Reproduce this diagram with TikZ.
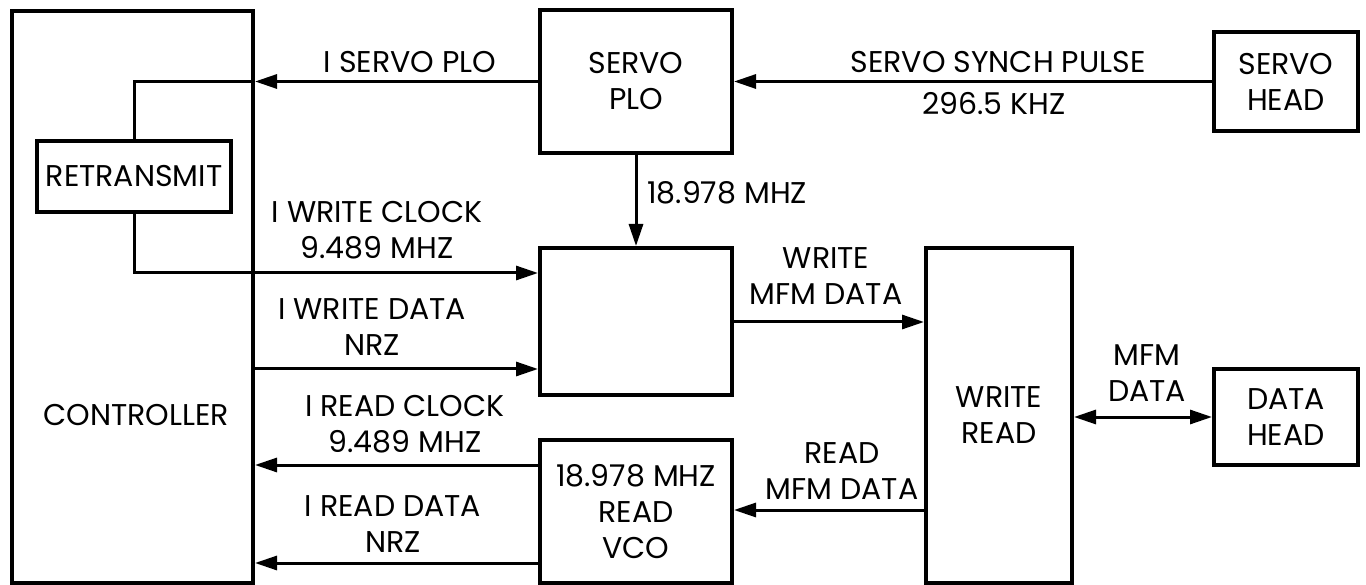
\documentclass[tikz,border=0pt]{standalone}
\usepackage{fontspec}
\setmainfont{Poppins}
\usetikzlibrary{arrows.meta}
\begin{document}
\begin{tikzpicture}[x=1pt,y=-1pt,
  box/.style={draw=black,line width=4pt,inner sep=0pt,align=center},
  lbl/.style={inner sep=0pt,align=center},
  wire/.style={draw=black,line width=3pt},
  arr/.style={wire,-{Triangle[length=22pt,width=14pt]}},
  barr/.style={wire,{Triangle[length=22pt,width=14pt]}-{Triangle[length=22pt,width=14pt]}},
  every node/.style={font=\fontsize{30}{36}\selectfont}]
\useasboundingbox[fill=white] (0,0) rectangle (1366,585);
% boxes
\node[box,minimum width=241pt,minimum height=572pt] (ctrl) at (132.5,297) {};
\node[lbl] (ctrltext) at (136,415) {CONTROLLER};
\node[box,minimum width=194pt,minimum height=71pt] (rt) at (134,176.5) {RETRANSMIT};
\node[box,minimum width=192pt,minimum height=143pt] (sp) at (636,81.5) {SERVO\\PLO};
\node[box,minimum width=192pt,minimum height=147pt] (wb) at (636,321.5) {};
\node[box,minimum width=192pt,minimum height=143pt] (vco) at (636,511.5) {18.978 MHZ\\READ\\VCO};
\node[box,minimum width=146pt,minimum height=335pt] (wr) at (999,415.5) {WRITE\\READ};
\node[box,minimum width=144pt,minimum height=99pt] (sh) at (1286,81.5) {SERVO\\HEAD};
\node[box,minimum width=144pt,minimum height=96pt] (dh) at (1286,417) {DATA\\HEAD};
% levels
\coordinate (yWC) at (0,273);
\coordinate (yWD) at (0,369);
\coordinate (yRC) at (0,465);
\coordinate (yRD) at (0,563);
\coordinate (yWM) at (0,322);
\coordinate (yRM) at (0,510);
% connectors
\draw[arr] (sp.west) -- (ctrl.east |- sp.west);
\draw[wire] (ctrl.east |- sp.west) -| (rt.north);
\draw[arr] (rt.south) |- (wb.west |- yWC);
\draw[arr] (ctrl.east |- yWD) -- (wb.west |- yWD);
\draw[arr] (vco.west |- yRC) -- (ctrl.east |- yRC);
\draw[arr] (vco.west |- yRD) -- (ctrl.east |- yRD);
\draw[arr] (sh.west) -- (sp.east |- sh.west);
\draw[arr] (sp.south) -- (wb.north);
\draw[arr] (wb.east |- yWM) -- (wr.west |- yWM);
\draw[arr] (wr.west |- yRM) -- (vco.east |- yRM);
\draw[barr] (wr.east |- dh.west) -- (dh.west);
% labels
\node[lbl] (l1) at (410,62) {I SERVO PLO};
\node[lbl] (l2) at (377,230) {I WRITE CLOCK\\9.489 MHZ};
\node[lbl] (l3) at (372,327) {I WRITE DATA\\NRZ};
\node[lbl] (l4) at (405,424) {I READ CLOCK\\9.489 MHZ};
\node[lbl] (l5) at (393,524) {I READ DATA\\NRZ};
\node[lbl,anchor=west] (l6) at (647,193) {18.978 MHZ};
\node[lbl] (l7) at (998,62) {SERVO SYNCH PULSE};
\node[lbl] (l8) at (994,104) {296.5 KHZ};
\node[lbl] (l9) at (826,276) {WRITE\\MFM DATA};
\node[lbl] (l10) at (842,471) {READ\\MFM DATA};
\node[lbl] (l11) at (1147,373) {MFM\\DATA};
\end{tikzpicture}
\end{document}
